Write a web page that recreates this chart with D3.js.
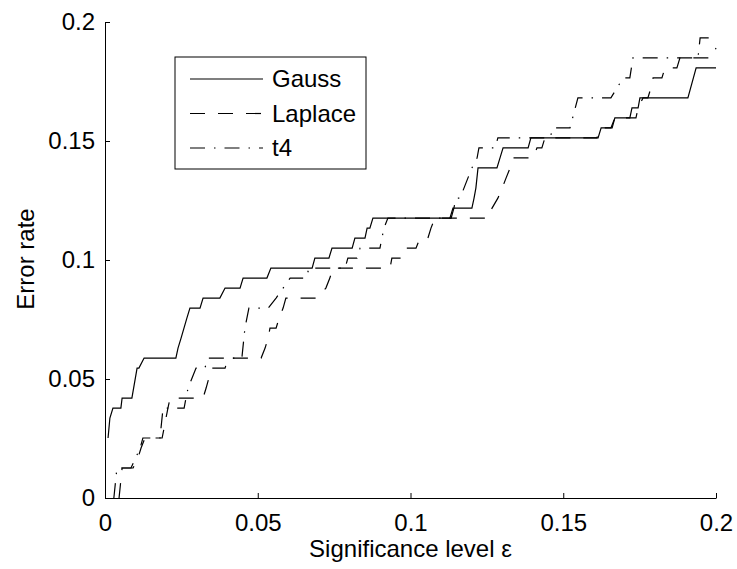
<!DOCTYPE html>
<html>
<head>
<meta charset="utf-8">
<script src="https://cdn.jsdelivr.net/npm/d3@7"></script>
<style>
  body { margin: 0; background: #fff; }
  svg { display: block; font-family: "Liberation Sans", Arial, sans-serif; }
</style>
</head>
<body>
<svg id="chart"></svg>
<script>
// error rate vs significance level, three noise models
const gaussX = [0.0010, 0.0016, 0.0026, 0.0052, 0.0056, 0.0088, 0.0105, 0.0111, 0.0128, 0.0232,
  0.0239, 0.0249, 0.0268, 0.0278, 0.0311, 0.0321, 0.0376, 0.0393, 0.0442, 0.0452,
  0.0530, 0.0543, 0.0678, 0.0687, 0.0733, 0.0743, 0.0809, 0.0818, 0.0851, 0.0858,
  0.0867, 0.0877, 0.1129, 0.1139, 0.1201, 0.1208, 0.1214, 0.1221, 0.1283, 0.1293,
  0.1303, 0.1385, 0.1394, 0.1614, 0.1624, 0.1660, 0.1669, 0.1718, 0.1725, 0.1745,
  0.1751, 0.1908, 0.1935, 0.2000];
const gaussY = [0.0252, 0.0336, 0.0378, 0.0378, 0.0420, 0.0420, 0.0546, 0.0546, 0.0588, 0.0588,
  0.0630, 0.0672, 0.0756, 0.0798, 0.0798, 0.0840, 0.0840, 0.0882, 0.0882, 0.0924,
  0.0924, 0.0966, 0.0966, 0.1008, 0.1008, 0.1050, 0.1050, 0.1092, 0.1092, 0.1134,
  0.1134, 0.1176, 0.1176, 0.1218, 0.1218, 0.1260, 0.1302, 0.1387, 0.1387, 0.1429,
  0.1471, 0.1471, 0.1513, 0.1513, 0.1555, 0.1555, 0.1597, 0.1597, 0.1639, 0.1639,
  0.1681, 0.1681, 0.1807, 0.1807];

const laplaceX = [0.0046, 0.0056, 0.0092, 0.0108, 0.0118, 0.0131, 0.0187, 0.0206, 0.0213, 0.0321,
  0.0331, 0.0340, 0.0350, 0.0393, 0.0403, 0.0511, 0.0524, 0.0534, 0.0540, 0.0560,
  0.0570, 0.0583, 0.0592, 0.0694, 0.0723, 0.0736, 0.0746, 0.0933, 0.0939, 0.0972,
  0.0985, 0.1018, 0.1031, 0.1057, 0.1067, 0.1080, 0.1254, 0.1267, 0.1286, 0.1300,
  0.1313, 0.1326, 0.1336, 0.1401, 0.1414, 0.1430, 0.1440, 0.1610, 0.1624, 0.1656,
  0.1669, 0.1738, 0.1745, 0.1761, 0.1777, 0.1787, 0.1794, 0.1823, 0.1833, 0.1872,
  0.1882, 0.1987, 0.2000];
const laplaceY = [0.0000, 0.0126, 0.0126, 0.0168, 0.0210, 0.0252, 0.0252, 0.0378, 0.0420, 0.0420,
  0.0462, 0.0504, 0.0546, 0.0546, 0.0588, 0.0588, 0.0630, 0.0672, 0.0714, 0.0714,
  0.0756, 0.0798, 0.0840, 0.0840, 0.0882, 0.0924, 0.0966, 0.0966, 0.1008, 0.1008,
  0.1050, 0.1050, 0.1092, 0.1092, 0.1134, 0.1176, 0.1176, 0.1218, 0.1260, 0.1302,
  0.1345, 0.1387, 0.1429, 0.1429, 0.1471, 0.1471, 0.1513, 0.1513, 0.1555, 0.1555,
  0.1597, 0.1597, 0.1639, 0.1681, 0.1681, 0.1723, 0.1765, 0.1765, 0.1807, 0.1807,
  0.1849, 0.1849, 0.1891];

const t4X = [0.0029, 0.0039, 0.0085, 0.0115, 0.0124, 0.0180, 0.0190, 0.0259, 0.0265, 0.0272,
  0.0285, 0.0298, 0.0327, 0.0337, 0.0448, 0.0458, 0.0471, 0.0534, 0.0560, 0.0583,
  0.0606, 0.0658, 0.0668, 0.0786, 0.0795, 0.0825, 0.0835, 0.0900, 0.0913, 0.0926,
  0.1133, 0.1142, 0.1149, 0.1162, 0.1175, 0.1201, 0.1218, 0.1224, 0.1277, 0.1286,
  0.1457, 0.1466, 0.1522, 0.1548, 0.1656, 0.1696, 0.1718, 0.1728, 0.1941, 0.1948,
  0.2000];
const t4Y = [0.0000, 0.0126, 0.0126, 0.0210, 0.0252, 0.0252, 0.0378, 0.0378, 0.0420, 0.0462,
  0.0504, 0.0546, 0.0546, 0.0588, 0.0588, 0.0714, 0.0798, 0.0798, 0.0840, 0.0882,
  0.0924, 0.0924, 0.0966, 0.0966, 0.1008, 0.1008, 0.1050, 0.1050, 0.1134, 0.1176,
  0.1176, 0.1218, 0.1260, 0.1260, 0.1302, 0.1387, 0.1429, 0.1471, 0.1471, 0.1513,
  0.1513, 0.1555, 0.1555, 0.1681, 0.1681, 0.1765, 0.1765, 0.1849, 0.1849, 0.1933,
  0.1933];

const seriesNames = ["Gauss", "Laplace", "t4"];
const xTicks = [0, 0.05, 0.1, 0.15, 0.2];
const xTickLabels = ["0", "0.05", "0.1", "0.15", "0.2"];
const yTicks = [0, 0.05, 0.1, 0.15, 0.2];
const yTickLabels = ["0", "0.05", "0.1", "0.15", "0.2"];

const width = 737, height = 569;
const margin = {top: 22, right: 21, bottom: 71, left: 105};
const innerW = width - margin.left - margin.right;
const innerH = height - margin.top - margin.bottom;
const fontSize = "24px";

const svg = d3.select("#chart")
  .attr("width", width)
  .attr("height", height);

const chart = svg.append("g")
  .attr("transform", `translate(${margin.left},${margin.top})`);

const xscale = d3.scaleLinear().domain([0, 0.2]).range([0, innerW]);
const yscale = d3.scaleLinear().domain([0, 0.2]).range([innerH, 0]);

const xaxis = d3.axisBottom(xscale)
  .tickValues(xTicks)
  .tickFormat((d, i) => xTickLabels[i])
  .tickSizeInner(-5)
  .tickSizeOuter(0)
  .tickPadding(16);

const yaxis = d3.axisLeft(yscale)
  .tickValues(yTicks)
  .tickFormat((d, i) => yTickLabels[i])
  .tickSizeInner(-5)
  .tickSizeOuter(0)
  .tickPadding(10);

const xg = chart.append("g")
  .attr("transform", `translate(0,${innerH})`)
  .call(xaxis);
const yg = chart.append("g").call(yaxis);

[xg, yg].forEach(g => {
  g.selectAll("text").attr("font-size", fontSize).attr("fill", "#000")
    .attr("font-family", "Liberation Sans, Arial, sans-serif");
  g.selectAll("line, path").attr("stroke", "#000").attr("stroke-width", 1);
});

const series = [
  {name: seriesNames[0], xs: gaussX, ys: gaussY, dash: null},
  {name: seriesNames[1], xs: laplaceX, ys: laplaceY, dash: "15,13"},
  {name: seriesNames[2], xs: t4X, ys: t4Y, dash: "15,9,1.5,9"}
];

const line = d3.line()
  .x(d => xscale(d[0]))
  .y(d => yscale(d[1]));

series.forEach(s => {
  chart.append("path")
    .datum(s.xs.map((x, i) => [x, s.ys[i]]))
    .attr("fill", "none")
    .attr("stroke", "#000")
    .attr("stroke-width", 1.2)
    .attr("stroke-dasharray", s.dash)
    .attr("d", line);
});

// axis labels
svg.append("text")
  .attr("x", margin.left + innerW / 2)
  .attr("y", 557)
  .attr("text-anchor", "middle")
  .attr("font-size", fontSize)
  .text("Significance level \u03b5");

svg.append("text")
  .attr("transform", `translate(34,259) rotate(-90)`)
  .attr("text-anchor", "middle")
  .attr("font-size", fontSize)
  .text("Error rate");

// legend
const legend = svg.append("g").attr("transform", "translate(175,57)");
legend.append("rect")
  .attr("width", 191).attr("height", 112)
  .attr("fill", "#fff").attr("stroke", "#000").attr("stroke-width", 1);

series.forEach((s, i) => {
  const ly = 22 + i * 34.5;
  legend.append("line")
    .attr("x1", 15).attr("x2", 88)
    .attr("y1", ly).attr("y2", ly)
    .attr("stroke", "#000").attr("stroke-width", 1.2)
    .attr("stroke-dasharray", s.dash);
  legend.append("text")
    .attr("x", 97).attr("y", ly)
    .attr("dy", "0.35em")
    .attr("font-size", fontSize)
    .text(s.name);
});
</script>
</body>
</html>
